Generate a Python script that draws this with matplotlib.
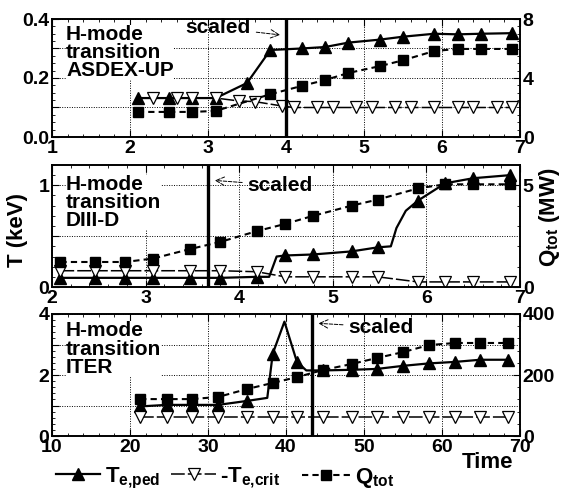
import matplotlib
matplotlib.use("Agg")
import matplotlib.pyplot as plt
from matplotlib.lines import Line2D
from matplotlib.ticker import MultipleLocator, AutoMinorLocator, FuncFormatter

plt.rcParams['font.family'] = ['Liberation Sans', 'DejaVu Sans']
plt.rcParams['font.weight'] = 'bold'
plt.rcParams['mathtext.default'] = 'regular'

# ASDEX-UP (top)
asdex_ped_x = [2.1, 2.5, 2.8, 3.1, 3.5, 3.8, 4.2, 4.5, 4.8, 5.2, 5.5, 5.9, 6.2, 6.5, 6.9]
asdex_ped = [0.132, 0.132, 0.132, 0.132, 0.183, 0.295, 0.30, 0.305, 0.32, 0.33, 0.34, 0.35, 0.348, 0.35, 0.352]
asdex_crit_x = [2.3, 2.6, 2.8, 3.1, 3.4, 3.6, 3.95, 4.1, 4.4, 4.6, 4.9, 5.1, 5.4, 5.6, 5.9, 6.2, 6.4, 6.7, 6.9]
asdex_crit = [0.132, 0.132, 0.132, 0.132, 0.122, 0.12, 0.105, 0.1, 0.1, 0.1, 0.1, 0.1, 0.1, 0.1, 0.1, 0.1, 0.1, 0.1, 0.1]
asdex_q_x = [2.1, 2.5, 2.8, 3.1, 3.8, 4.2, 4.5, 4.8, 5.2, 5.5, 5.9, 6.2, 6.5, 6.9]
asdex_q = [1.7, 1.7, 1.7, 1.77, 2.9, 3.46, 3.86, 4.34, 4.8, 5.2, 5.83, 5.97, 5.97, 5.97]
asdex_scaled = 4.0

# DIII-D (middle)
d3d_x = [2.09, 2.46, 2.78, 3.08, 3.47, 3.8, 4.19, 4.49, 4.79, 5.2, 5.48, 5.91, 6.2, 6.5, 6.89]
d3d_ped_line_x = [2.09, 2.46, 2.78, 3.08, 3.47, 3.8, 4.19, 4.32, 4.4, 4.49, 4.79, 5.2, 5.48,
                  5.62, 5.68, 5.78, 5.91, 6.2, 6.5, 6.89]
d3d_ped_line = [0.09, 0.09, 0.09, 0.09, 0.09, 0.09, 0.1, 0.1, 0.3, 0.31, 0.32, 0.35, 0.39,
                0.40, 0.58, 0.75, 0.85, 1.02, 1.07, 1.10]
d3d_ped_marks = [0, 1, 2, 3, 4, 5, 6, 9, 10, 11, 12, 16, 17, 18, 19]
d3d_crit = [0.16, 0.16, 0.16, 0.16, 0.16, 0.16, 0.15, 0.1, 0.1, 0.1, 0.1, 0.05, 0.05, 0.05, 0.05]
d3d_q = [1.23, 1.23, 1.23, 1.4, 1.86, 2.22, 2.75, 3.1, 3.5, 4.0, 4.3, 4.85, 5.05, 5.05, 5.05]
d3d_scaled = 3.67

# ITER (bottom)
iter_x = [21.3, 24.7, 27.9, 31.3, 35.0, 38.3, 41.4, 44.7, 48.4, 51.7, 55.0, 58.3, 61.7, 64.9, 68.5]
iter_ped_line_x = [21.3, 24.7, 27.9, 31.3, 35.0, 37.6, 38.3, 39.8, 41.4, 42.6, 44.7, 48.4,
                   51.7, 55.0, 58.3, 61.7, 64.9, 68.5]
iter_ped_line = [0.97, 1.02, 1.02, 1.02, 1.15, 1.25, 2.7, 3.75, 2.43, 2.15, 2.15, 2.17,
                 2.2, 2.3, 2.38, 2.43, 2.5, 2.5]
iter_ped_marks = [0, 1, 2, 3, 4, 6, 8, 10, 11, 12, 13, 14, 15, 16, 17]
iter_crit = [0.62] * 15
iter_q = [121, 121, 121, 128, 154, 174, 193, 216, 236, 256, 275, 298, 305, 305, 305]
iter_scaled = 43.3

W, H = 565, 494
fig = plt.figure(figsize=(W / 100, H / 100), dpi=100)

def box(top, bottom):
    return [52 / W, 1 - bottom / H, 468 / W, (bottom - top) / H]

ped_kw = dict(color='k', lw=1.6, marker='^', ms=9)
crit_kw = dict(color='k', lw=1.1, ls=(0, (9, 2)), marker='v', ms=9, mfc='white', mec='k', mew=0.9)
q_kw = dict(color='k', lw=1.5, ls=(0, (3, 2)), marker='s', ms=6.5)


def style(ax, axr, xlim, xstep, xminor, ylim, ystep, ylab_step, yminor, qlim, qstep, qminor, fmt):
    ax.set_xlim(*xlim)
    ax.set_ylim(*ylim)
    axr.set_ylim(*qlim)
    ax.xaxis.set_major_locator(MultipleLocator(xstep))
    ax.xaxis.set_minor_locator(AutoMinorLocator(xminor))
    ax.yaxis.set_major_locator(MultipleLocator(ystep))
    ax.yaxis.set_minor_locator(AutoMinorLocator(yminor))
    ax.yaxis.set_major_formatter(FuncFormatter(
        lambda v, p: (fmt % v) if abs(v / ylab_step - round(v / ylab_step)) < 1e-6 else ''))
    axr.yaxis.set_major_locator(MultipleLocator(qstep))
    axr.yaxis.set_minor_locator(AutoMinorLocator(qminor))
    ax.grid(True, which='major', ls=(0, (1, 1.5)), color='k', lw=0.7)
    ax.tick_params(which='both', direction='in', top=True, right=False, labelsize=14, pad=2)
    ax.tick_params(which='major', length=5)
    ax.tick_params(which='minor', length=2.5)
    axr.tick_params(which='both', direction='in', labelsize=14, pad=2)
    axr.tick_params(which='major', length=5)
    axr.tick_params(which='minor', length=2.5)
    for a in (ax, axr):
        for s in a.spines.values():
            s.set_linewidth(1.2)


# top panel
ax1 = fig.add_axes(box(19, 137))
ax1r = ax1.twinx()
ax1.plot(asdex_ped_x, asdex_ped, **ped_kw)
ax1.plot(asdex_crit_x, asdex_crit, **crit_kw)
ax1r.plot(asdex_q_x, asdex_q, **q_kw)
ax1.axvline(asdex_scaled, color='k', lw=2.4)
style(ax1, ax1r, (1, 7), 1, 5, (0, 0.4), 0.1, 0.2, 4, (0, 8), 4, 8, '%.1f')
ax1.text(0.03, 0.95, 'H-mode\ntransition\nASDEX-UP', transform=ax1.transAxes, fontsize=15,
         va='top', ha='left', linespacing=0.95,
         bbox=dict(fc='white', ec='none', pad=0))
ax1r.annotate('scaled', xy=(3.96, 6.9), xytext=(3.13, 7.4), fontsize=15, ha='center', va='center',
              arrowprops=dict(arrowstyle='->', ls='--', lw=0.7, color='k'))

# middle panel
ax2 = fig.add_axes(box(165, 287))
ax2r = ax2.twinx()
ax2.plot(d3d_ped_line_x, d3d_ped_line, markevery=d3d_ped_marks, **ped_kw)
ax2.plot(d3d_x, d3d_crit, **crit_kw)
ax2r.plot(d3d_x, d3d_q, **q_kw)
ax2.axvline(d3d_scaled, color='k', lw=2.4)
style(ax2, ax2r, (2, 7), 1, 5, (0, 1.2), 0.5, 1, 5, (0, 6), 5, 5, '%d')
ax2.text(0.03, 0.92, 'H-mode\ntransition\nDIII-D', transform=ax2.transAxes, fontsize=15,
         va='top', ha='left', linespacing=0.95,
         bbox=dict(fc='white', ec='none', pad=0))
ax2.annotate('scaled', xy=(3.71, 1.05), xytext=(4.44, 1.0), fontsize=15, ha='center', va='center',
             arrowprops=dict(arrowstyle='->', ls='--', lw=0.7, color='k'))

# bottom panel
ax3 = fig.add_axes(box(314, 436))
ax3r = ax3.twinx()
ax3.plot(iter_ped_line_x, iter_ped_line, markevery=iter_ped_marks, **ped_kw)
ax3.plot(iter_x, iter_crit, **crit_kw)
ax3r.plot(iter_x, iter_q, **q_kw)
ax3.axvline(iter_scaled, color='k', lw=2.4)
style(ax3, ax3r, (10, 70), 10, 5, (0, 4), 1, 2, 5, (0, 400), 200, 5, '%d')
ax3.text(0.03, 0.94, 'H-mode\ntransition\nITER', transform=ax3.transAxes, fontsize=15,
         va='top', ha='left', linespacing=0.95,
         bbox=dict(fc='white', ec='none', pad=0))
ax3.annotate('scaled', xy=(43.8, 3.7), xytext=(52.2, 3.57), fontsize=15, ha='center', va='center',
             arrowprops=dict(arrowstyle='->', ls='--', lw=0.7, color='k'))

fig.text(18 / W, 1 - 230 / H, 'T (keV)', rotation=90, fontsize=16, ha='center', va='center')
fig.text(550 / W, 1 - 217 / H, 'Q$_{tot}$ (MW)', rotation=90, fontsize=16, ha='center', va='center')
fig.text(487 / W, 1 - 462 / H, 'Time', fontsize=16, ha='center', va='center')

h_ped = Line2D([], [], **ped_kw)
h_crit = Line2D([], [], **crit_kw)
h_q = Line2D([], [], **q_kw)
fig.legend([h_ped, h_crit], ['T$_{e{,}ped}$', '-T$_{e{,}crit}$'], loc='center left',
           bbox_to_anchor=(56 / W, 1 - 478 / H), ncol=2, frameon=False, fontsize=16,
           handlelength=2.0, handletextpad=0.2, columnspacing=0.5, borderpad=0, borderaxespad=0)
fig.legend([h_q], ['Q$_{tot}$'], loc='center left',
           bbox_to_anchor=(302 / W, 1 - 478 / H), frameon=False, fontsize=16,
           handlelength=2.2, handletextpad=0.2, borderpad=0, borderaxespad=0)

fig.savefig('out.png', dpi=100)
